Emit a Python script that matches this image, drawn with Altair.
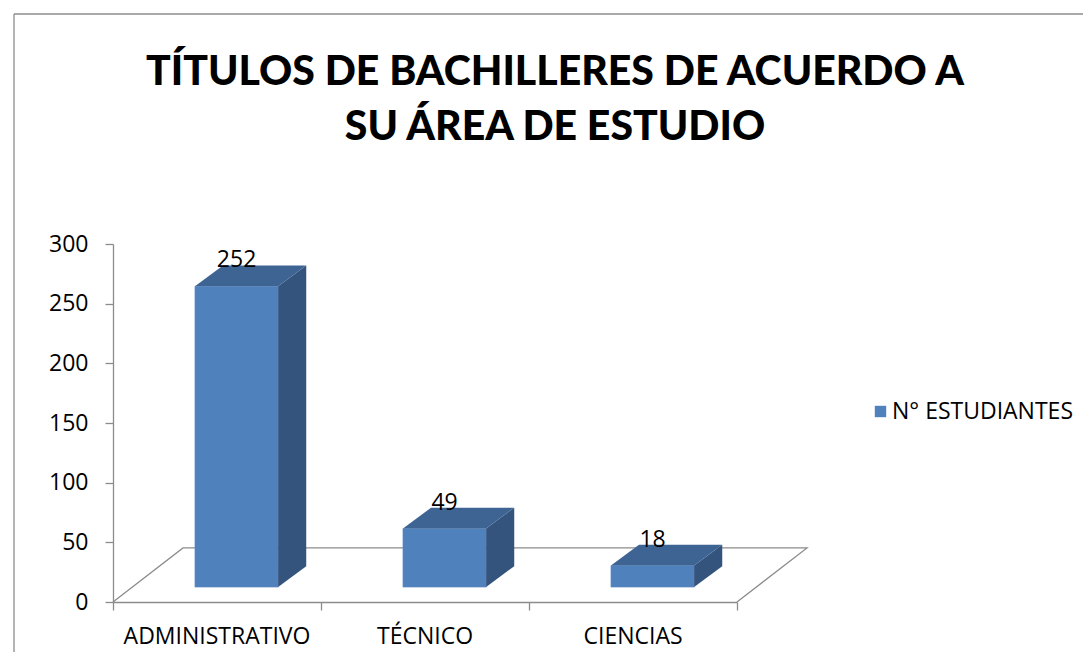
import altair as alt
import pandas as pd

# ---- data ----
categories = ["ADMINISTRATIVO", "TÉCNICO", "CIENCIAS"]
values = [252, 49, 18]
series_name = "N° ESTUDIANTES"
y_ticks = [0, 50, 100, 150, 200, 250, 300]

# ---- 3D look (style constants, in axis units) ----
LIFT = 12.5        # bars stand inside the floor depth
FACE_SHIFT = 0.094 # perspective shift of the front face
HALF_W = 0.2
DX, DY = 0.135, 17.5   # bar depth
FLOOR_DX, FLOOR_DY = 0.3365, 45.3

FRONT = "#4F81BD"
TOP = "#3E6494"
SIDE = "#34547D"
EDGE = "#5B8AC2"
GRAY = "#8C8C8C"
FONT = "Open Sans"
TFONT = "Lato"

front_rows, side_rows, top_rows, label_rows, cat_rows = [], [], [], [], []
for i, (c, v) in enumerate(zip(categories, values)):
    pos = i + 0.5
    x0, x1 = pos + FACE_SHIFT - HALF_W, pos + FACE_SHIFT + HALF_W
    y0, y1 = LIFT, LIFT + v
    front_rows.append({"cat": c, "x0": x0, "x1": x1, "y0": y0, "y1": y1, "series": series_name})
    side_rows += [
        {"cat": c, "x": x1, "y": y1, "y2": y0},
        {"cat": c, "x": x1 + DX, "y": y1 + DY, "y2": y0 + DY},
    ]
    top_rows += [
        {"cat": c, "y": y1, "x": x0, "x2": x1},
        {"cat": c, "y": y1 + DY, "x": x0 + DX, "x2": x1 + DX},
    ]
    label_rows.append({"cat": c, "x": (x0 + x1) / 2, "y": y1 + DY, "v": str(v)})
    cat_rows.append({"cat": c, "x": pos})

front = pd.DataFrame(front_rows)
side = pd.DataFrame(side_rows)
top = pd.DataFrame(top_rows)
labels = pd.DataFrame(label_rows)
cats = pd.DataFrame(cat_rows)
n = len(categories)
floor = pd.DataFrame({
    "x": [0, FLOOR_DX, n + FLOOR_DX, n],
    "y": [0, FLOOR_DY, FLOOR_DY, 0],
    "o": [0, 1, 2, 3],
})

xs = alt.Scale(domain=[0, n], nice=False, zero=False)
ys = alt.Scale(domain=[0, 300], nice=False)

x_axis = alt.Axis(values=list(range(n + 1)), labels=False, title=None, grid=False,
                  tickSize=8, tickColor=GRAY, domainColor=GRAY, domainWidth=1.3, tickWidth=1.3)
y_axis = alt.Axis(values=y_ticks, title=None, grid=False, tickSize=8, tickColor=GRAY,
                  domainColor=GRAY, domainWidth=1.3, tickWidth=1.3, labelFontSize=23,
                  labelFont=FONT, labelColor="black", labelPadding=17)

floor_layer = alt.Chart(floor).mark_line(color=GRAY, strokeWidth=1.3).encode(
    x=alt.X("x:Q", scale=xs, axis=x_axis),
    y=alt.Y("y:Q", scale=ys, axis=y_axis),
    order="o:Q",
)

front_layer = alt.Chart(front).mark_bar(stroke=EDGE, strokeWidth=0.6).encode(
    x=alt.X("x0:Q", scale=xs), x2="x1:Q",
    y=alt.Y("y0:Q", scale=ys), y2="y1:Q",
    color=alt.Color("series:N", scale=alt.Scale(domain=[series_name], range=[FRONT]),
                    legend=alt.Legend(title=None, orient="none", legendX=756, legendY=156,
                                      symbolType="square", symbolSize=130,
                                      symbolStrokeWidth=0, labelFontSize=23,
                                      labelFont=FONT, labelColor="black", labelOffset=0,
                                      labelLimit=400)),
)

side_layer = alt.Chart(side).mark_area(color=SIDE, orient="vertical", interpolate="linear").encode(
    x=alt.X("x:Q", scale=xs), y=alt.Y("y:Q", scale=ys), y2="y2:Q", detail="cat:N",
)

top_layer = alt.Chart(top).mark_area(color=TOP, orient="horizontal", interpolate="linear").encode(
    y=alt.Y("y:Q", scale=ys), x=alt.X("x:Q", scale=xs), x2="x2:Q", detail="cat:N",
)

value_text = alt.Chart(labels).mark_text(fontSize=23, font=FONT, color="black",
                                         baseline="alphabetic", dy=2).encode(
    x=alt.X("x:Q", scale=xs), y=alt.Y("y:Q", scale=ys), text="v:N",
)

cat_text = alt.Chart(cats).mark_text(fontSize=23, font=FONT, color="black",
                                     baseline="middle").encode(
    x=alt.X("x:Q", scale=xs), y=alt.value(393), text="cat:N",
)

one = pd.DataFrame({"a": [0]})
border_left = alt.Chart(one).mark_rule(color=GRAY, strokeWidth=1.3).encode(
    x=alt.value(-99), y=alt.value(-230), y2=alt.value(500))
border_top = alt.Chart(one).mark_rule(color=GRAY, strokeWidth=1.3).encode(
    x=alt.value(-99), x2=alt.value(1200), y=alt.value(-230))

chart = alt.layer(
    border_left, border_top, floor_layer, front_layer, side_layer, top_layer,
    value_text, cat_text,
).properties(
    width=624, height=358,
    autosize="none",
    background="white",
    padding={"left": 105, "top": 236, "right": 346, "bottom": 50},
    title=alt.TitleParams(
        ["TÍTULOS DE BACHILLERES DE ACUERDO A", "SU ÁREA DE ESTUDIO"],
        font=TFONT, fontSize=41, fontWeight=900, color="black",
        anchor="middle", dx=130, lineHeight=55, offset=-136,
    ),
).configure_view(stroke=None, strokeWidth=0)

chart.save("out.html", embed_options={"renderer": "svg", "actions": False})
